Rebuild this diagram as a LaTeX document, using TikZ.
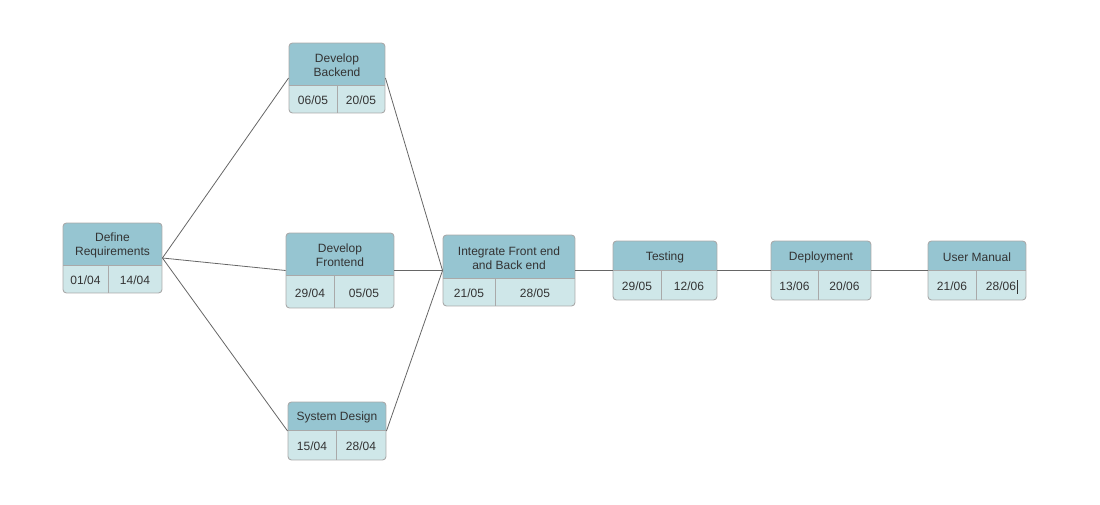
\documentclass[tikz,border=0pt]{standalone}
\usepackage{fontspec}
\setmainfont{Liberation Sans}
\definecolor{headfill}{HTML}{96C5D1}
\definecolor{bodyfill}{HTML}{CFE7E9}
\definecolor{edgegray}{HTML}{A9A9A9}
\definecolor{linkgray}{HTML}{666666}
\definecolor{inkgray}{HTML}{333333}
\tikzset{
  taskframe/.style={draw=edgegray, line width=0.9pt, rounded corners=3.5pt, inner sep=0pt},
  headpart/.style={fill=headfill},
  bodypart/.style={fill=bodyfill},
  cellrule/.style={draw=edgegray, line width=0.8pt},
  label/.style={text=inkgray, font=\fontsize{12}{14}\selectfont, align=center, inner sep=0pt, yshift=-1.5pt},
  link/.style={draw=linkgray, line width=0.8pt},
}
\begin{document}
\begin{tikzpicture}[x=1pt, y=-1pt]
\useasboundingbox (0,0) rectangle (1100,505);
% name / left / top / right / header bottom / bottom / divider / title / start / end
\foreach \n/\xa/\ya/\xb/\yh/\yb/\xd/\t/\da/\db in {
  dr/63/223/162/265/293/108/{Define\\Requirements}/{01/04}/{14/04},
  db/289/43/385/85/113/337/{Develop\\Backend}/{06/05}/{20/05},
  df/286/233/394/275/308/334/{Develop\\Frontend}/{29/04}/{05/05},
  sd/288/402/386/430/460/336/{System Design}/{15/04}/{28/04},
  ig/443/235/575/278/306/495/{Integrate Front end\\and Back end}/{21/05}/{28/05},
  ts/613/241/717/270/300/661/{Testing}/{29/05}/{12/06},
  dp/771/241/871/270/300/818/{Deployment}/{13/06}/{20/06},
  um/928/241/1026/270/300/976/{User Manual}/{21/06}/{28/06}}
{
  \begin{scope}
    \clip[rounded corners=3.5pt] (\xa,\ya) rectangle (\xb,\yb);
    \fill[headpart] (\xa,\ya) rectangle (\xb,\yh);
    \fill[bodypart] (\xa,\yh) rectangle (\xb,\yb);
  \end{scope}
  \draw[cellrule] (\xa,\yh) -- (\xb,\yh);
  \draw[cellrule] (\xd,\yh) -- (\xd,\yb);
  \node[taskframe, minimum width=\xb pt-\xa pt, minimum height=\yb pt-\ya pt]
    (\n) at ({(\xa+\xb)/2},{(\ya+\yb)/2}) {};
  \node[label] (\n-title) at ({(\xa+\xb)/2},{(\ya+\yh)/2}) {\t};
  \node[label] (\n-start) at ({(\xa+\xd)/2},{(\yh+\yb)/2}) {\da};
  \node[label] (\n-end) at ({(\xd+\xb)/2},{(\yh+\yb)/2}) {\db};
}
% text caret after the last date
\draw[draw=inkgray, line width=0.9pt] ([xshift=1pt,yshift=-7pt]um-end.east) -- ([xshift=1pt,yshift=7pt]um-end.east);
% dependencies
\draw[link] (dr.east) -- (db.west);
\draw[link] (dr.east) -- (df.west);
\draw[link] (dr.east) -- (sd.west);
\draw[link] (db.east) -- (ig.west);
\draw[link] (df.east) -- (ig.west);
\draw[link] (sd.east) -- (ig.west);
\draw[link] (ig.east) -- (ts.west);
\draw[link] (ts.east) -- (dp.west);
\draw[link] (dp.east) -- (um.west);
\end{tikzpicture}
\end{document}
